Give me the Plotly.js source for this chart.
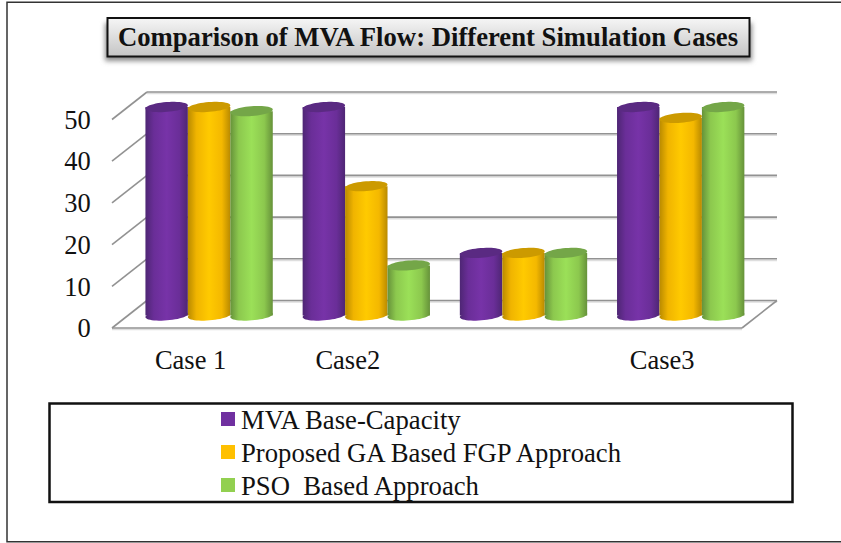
<!DOCTYPE html>
<html>
<head>
<meta charset="utf-8">
<script src="https://cdn.plot.ly/plotly-3.0.1.min.js"></script>
<style>html,body{margin:0;padding:0;background:#fff}</style>
</head>
<body>
<div id="chart" style="width:841px;height:543px"></div>
<script>
// ---- data ----
const categories = ["Case 1", "Case2", "", "Case3"];
const seriesNames = ["MVA Base-Capacity", "Proposed GA Based FGP Approach", "PSO  Based Approach"];
const mvaBase = [50, 50, 15, 50];
const gaFgp = [50, 31, 15, 47.4];
const psoBased = [49, 12, 15, 50];
const yTicks = [0, 10, 20, 30, 40, 50];
const titleText = "Comparison of MVA Flow: Different Simulation Cases";

// ---- styling ----
const flat = ["#7030a0", "#ffc000", "#92d050"];
const caps = ["#5a2a82", "#cc9a00", "#74a648"];
const grads = [
  ["#4e2674", "#6a2e98", "#7733a8", "#6a2e98", "#4e2674"],
  ["#b98a00", "#f0b400", "#ffca00", "#f4b800", "#b98a00"],
  ["#66923a", "#8cc84e", "#9be058", "#8cc84e", "#66923a"]
];
const series = [mvaBase, gaFgp, psoBased];
const W = 841, H = 543;
const pL = 110, pR = 780, pT = 88, pB = 332;   // plot box in page pixels
const pxU = 157.2, pyU = 4.17;                 // px per category, px per value
const y0px = 328;
const xRange = [-0.5 - 2 / pxU, -0.5 + (pR - pL - 2) / pxU];
const yRange = [-(pB - y0px) / pyU, (y0px - pT) / pyU];
const depthX = 35 / pxU, depthY = 27.5 / pyU;
const barShift = 18.5 / pxU;
const barBase = 3;
const left = -0.5, right = left + 630 / pxU;

const xp = px => (px - pL) / (pR - pL);
const yp = py => (pB - py) / (pB - pT);

// ---- shapes ----
const shapes = [];
const fillMap = {};
function addPaper(x0, y0, x1, y1, o) {
  shapes.push(Object.assign({type: "rect", xref: "paper", yref: "paper", layer: "below",
    x0: xp(x0), x1: xp(x1), y0: yp(y0), y1: yp(y1)}, o));
  return shapes.length - 1;
}
addPaper(7, 2.3, 846, 541.7, {line: {color: "#333", width: 1.5}, fillcolor: "rgba(0,0,0,0)"});
const shadowIdx = addPaper(105, 23, 752, 61, {line: {width: 0}, fillcolor: "#8a8a8a"});
const titleIdx = addPaper(107.5, 18, 749.5, 56.5, {line: {color: "#111", width: 2}, fillcolor: "#e0e0e0"});
addPaper(49.5, 403.5, 792.5, 502, {line: {color: "#111", width: 2.5}, fillcolor: "#fff"});

function line(x0, y0, x1, y1, color, width) {
  shapes.push({type: "line", xref: "x", yref: "y", layer: "below", x0, y0, x1, y1,
    line: {color, width}});
}
const grey = "#929292", soft = "#dedede";
const softOff = 1.6 / pyU;
yTicks.forEach(t => {
  line(left + depthX, t + depthY - softOff, right + depthX, t + depthY - softOff, soft, 1.5);
  line(left + depthX, t + depthY, right + depthX, t + depthY, grey, 1.6);
  line(left, t, left + depthX, t + depthY, grey, 1.6);
});
line(left, -softOff, right, -softOff, soft, 1.5);
line(left, 0, right, 0, grey, 1.6);
line(right, 0, right + depthX, depthY, grey, 1.6);

// tilted ellipse as a path in data units, centred on a bar end
function ellipse(cx, cy) {
  const a = 21.3, b = 4.9, th = 4.5 * Math.PI / 180, pts = [];
  for (let i = 0; i < 48; i++) {
    const t = i / 48 * 2 * Math.PI;
    const u = a * Math.cos(t), v = b * Math.sin(t);
    const dx = u * Math.cos(th) - v * Math.sin(th);
    const dy = u * Math.sin(th) + v * Math.cos(th);
    pts.push((i ? "L" : "M") + (cx + dx / pxU) + "," + (cy + dy / pyU));
  }
  return pts.join(" ") + " Z";
}
const slot = 0.27;   // one bar's share of a category
const traces = series.map((vals, s) => ({
  type: "bar",
  name: seriesNames[s],
  x: categories.map((c, i) => i + barShift),
  y: vals,
  base: vals.map(() => barBase),
  marker: {color: flat[s], line: {width: 0}},
  hoverinfo: "y"
}));
// bottoms of the cylinders, under the bars; tops, over them
series.forEach((vals, s) => vals.forEach((v, i) => {
  const cx = i + barShift + (s - 1) * slot;
  shapes.push({type: "path", xref: "x", yref: "y", layer: "below", path: ellipse(cx, barBase),
    fillcolor: flat[s], line: {width: 0}});
  fillMap[shapes.length - 1] = s;
}));
series.forEach((vals, s) => vals.forEach((v, i) => {
  const cx = i + barShift + (s - 1) * slot;
  shapes.push({type: "path", xref: "x", yref: "y", layer: "above", path: ellipse(cx, barBase + v),
    fillcolor: caps[s], line: {width: 0}});
}));

const serif = "'Liberation Serif','Times New Roman',serif";
const layout = {
  width: W, height: H,
  paper_bgcolor: "#fff", plot_bgcolor: "rgba(0,0,0,0)",
  margin: {l: pL, r: W - pR, t: pT, b: H - pB, pad: 0},
  barmode: "group", bargap: 1 - 3 * slot, bargroupgap: 0,
  title: {text: "<b>" + titleText + "</b>", x: 428 / W, xref: "container", xanchor: "center",
    y: 1 - 37 / H, yref: "container", yanchor: "middle",
    font: {family: serif, size: 26.7, color: "#111"}},
  xaxis: {range: xRange, tickmode: "array", tickvals: categories.map((c, i) => i), ticktext: categories,
    ticks: "outside", ticklen: 4, tickcolor: "rgba(0,0,0,0)", showgrid: false, zeroline: false,
    showline: false, tickfont: {family: serif, size: 26.5, color: "#111"}, tickangle: 0},
  yaxis: {range: yRange, tickmode: "array", tickvals: yTicks, ticktext: yTicks.map(String),
    ticks: "outside", ticklen: 13, tickcolor: "rgba(0,0,0,0)", showgrid: false, zeroline: false,
    showline: false, tickfont: {family: serif, size: 26.5, color: "#111"}},
  showlegend: true,
  legend: {orientation: "v", x: xp(208), xanchor: "left", y: yp(401), yanchor: "top",
    bgcolor: "rgba(0,0,0,0)", borderwidth: 0, traceorder: "normal",
    font: {family: serif, size: 26.7, color: "#111"}},
  shapes
};

function decorate(gd) {
  const svg = gd.querySelector(".main-svg");
  const NS = "http://www.w3.org/2000/svg";
  let defs = svg.querySelector("defs");
  const stops = [0, 0.2, 0.5, 0.8, 1];
  grads.forEach((g, s) => {
    const lg = document.createElementNS(NS, "linearGradient");
    lg.setAttribute("id", "cyl" + s);
    lg.setAttribute("x1", "0"); lg.setAttribute("x2", "1");
    lg.setAttribute("y1", "0"); lg.setAttribute("y2", "0");
    g.forEach((c, k) => {
      const st = document.createElementNS(NS, "stop");
      st.setAttribute("offset", stops[k]); st.setAttribute("stop-color", c);
      lg.appendChild(st);
    });
    defs.appendChild(lg);
  });
  const tg = document.createElementNS(NS, "linearGradient");
  tg.setAttribute("id", "titleGrad");
  tg.setAttribute("x1", "0"); tg.setAttribute("x2", "0"); tg.setAttribute("y1", "0"); tg.setAttribute("y2", "1");
  [["0", "#f6f6f6"], ["1", "#c4c4c4"]].forEach(p => {
    const st = document.createElementNS(NS, "stop");
    st.setAttribute("offset", p[0]); st.setAttribute("stop-color", p[1]);
    tg.appendChild(st);
  });
  defs.appendChild(tg);
  const f = document.createElementNS(NS, "filter");
  f.setAttribute("id", "soft");
  f.setAttribute("x", "-5%"); f.setAttribute("y", "-30%"); f.setAttribute("width", "110%"); f.setAttribute("height", "160%");
  const b = document.createElementNS(NS, "feGaussianBlur");
  b.setAttribute("stdDeviation", "2.5");
  f.appendChild(b); defs.appendChild(f);

  const shape = i => gd.querySelector('.shapelayer path[data-index="' + i + '"]');
  shape(titleIdx).style.fill = "url(#titleGrad)";
  shape(shadowIdx).setAttribute("filter", "url(#soft)");
  Object.keys(fillMap).forEach(i => { shape(i).style.fill = "url(#cyl" + fillMap[i] + ")"; });
  gd.querySelectorAll(".barlayer .trace.bars").forEach((t, s) => {
    t.querySelectorAll(".point path").forEach(p => { p.style.fill = "url(#cyl" + s + ")"; });
  });
  // square, close-set legend keys on the reference's 33px rhythm
  gd.querySelectorAll(".legend .legendpoints path").forEach(p => {
    p.setAttribute("d", "M7,7H-7V-7H7Z");
  });
  gd.querySelectorAll(".legend .traces").forEach((t, k) => {
    t.setAttribute("transform", "translate(0," + (18 + k * 33) + ")");
    const tx = t.querySelector("text.legendtext");
    if (tx) tx.setAttribute("x", 33);
  });
}

Plotly.newPlot("chart", traces, layout, {displayModeBar: false, staticPlot: true})
  .then(decorate);
</script>
</body>
</html>
